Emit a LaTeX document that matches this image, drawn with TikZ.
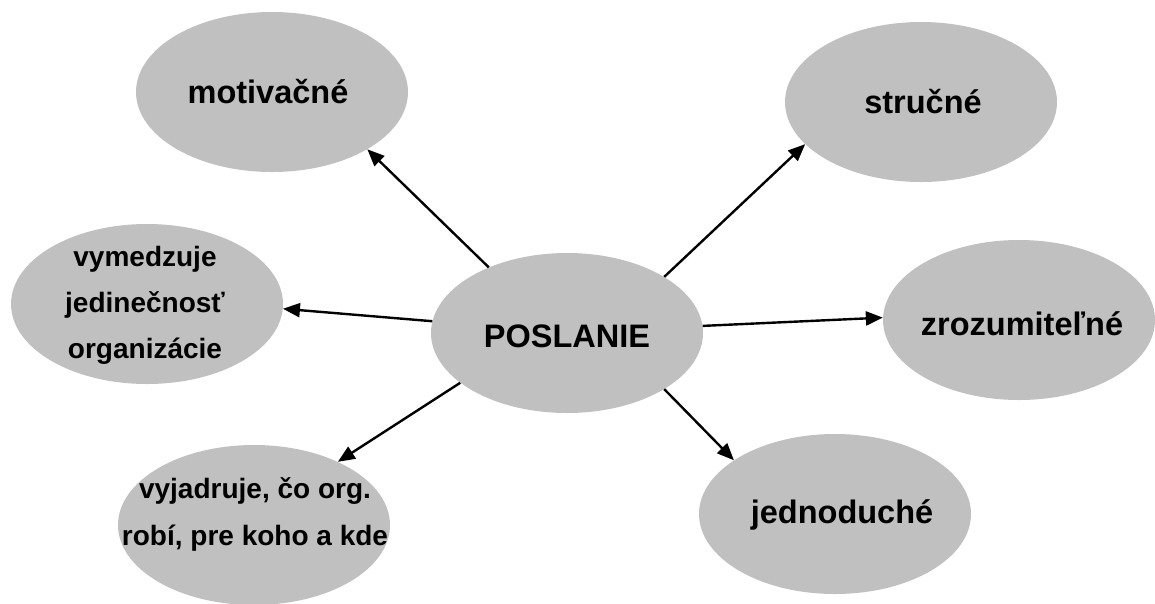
\documentclass[tikz,border=0pt]{standalone}
\usepackage{fontspec}
\setmainfont{Liberation Sans}
\usetikzlibrary{shapes.geometric,arrows.meta,calc}
\definecolor{bubblegray}{RGB}{192,192,192}
\begin{document}
\begin{tikzpicture}[x=1pt,y=-1pt,
  bubble/.style={ellipse, fill=bubblegray, draw=none, minimum width=272pt, minimum height=160pt, inner sep=0pt},
  word/.style={font=\bfseries\fontsize{32.5}{39}\selectfont, anchor=base, inner sep=0pt},
  multi/.style={font=\bfseries\fontsize{28}{46}\selectfont, align=center, inner sep=0pt},
  link/.style={line width=2.4pt, -{Triangle[length=17pt,width=14pt]}}]
\useasboundingbox (0,0) rectangle (1155,603);
\node[bubble] (m) at (272,92) {};
\node[bubble] (s) at (921,102) {};
\node[bubble] (v) at (147,304) {};
\node[bubble] (p) at (567,333) {};
\node[bubble] (z) at (1019,320) {};
\node[bubble] (y) at (254,525) {};
\node[bubble] (j) at (835,514) {};
\node[word] (mt) at ($(m)+(-4,11)$) {motivačné};
\node[word] (st) at ($(s)+(2,11)$) {stručné};
\node[word] (pt) at ($(p)+(0,14)$) {POSLANIE};
\node[word] (zt) at ($(z)+(3,15)$) {zrozumiteľné};
\node[word] (jt) at ($(j)+(7,9)$) {jednoduché};
\node[multi] (vt) at ($(v)+(-2,1.5)$) {vymedzuje\\jedinečnosť\\organizácie};
\node[multi, font=\bfseries\fontsize{28}{47}\selectfont] (yt) at ($(y)+(1,-10.5)$) {vyjadruje, čo org.\\robí, pre koho a kde};
\draw[link] (p.140) -- (m.-31);
\draw[link] (p.30) -- (s.200);
\draw[link] (p.175) -- (v.-2);
\draw[link] (p.3) -- (z.179);
\draw[link] (p.205) -- (y.37);
\draw[link] (p.-30) -- (j.152);
\end{tikzpicture}
\end{document}
